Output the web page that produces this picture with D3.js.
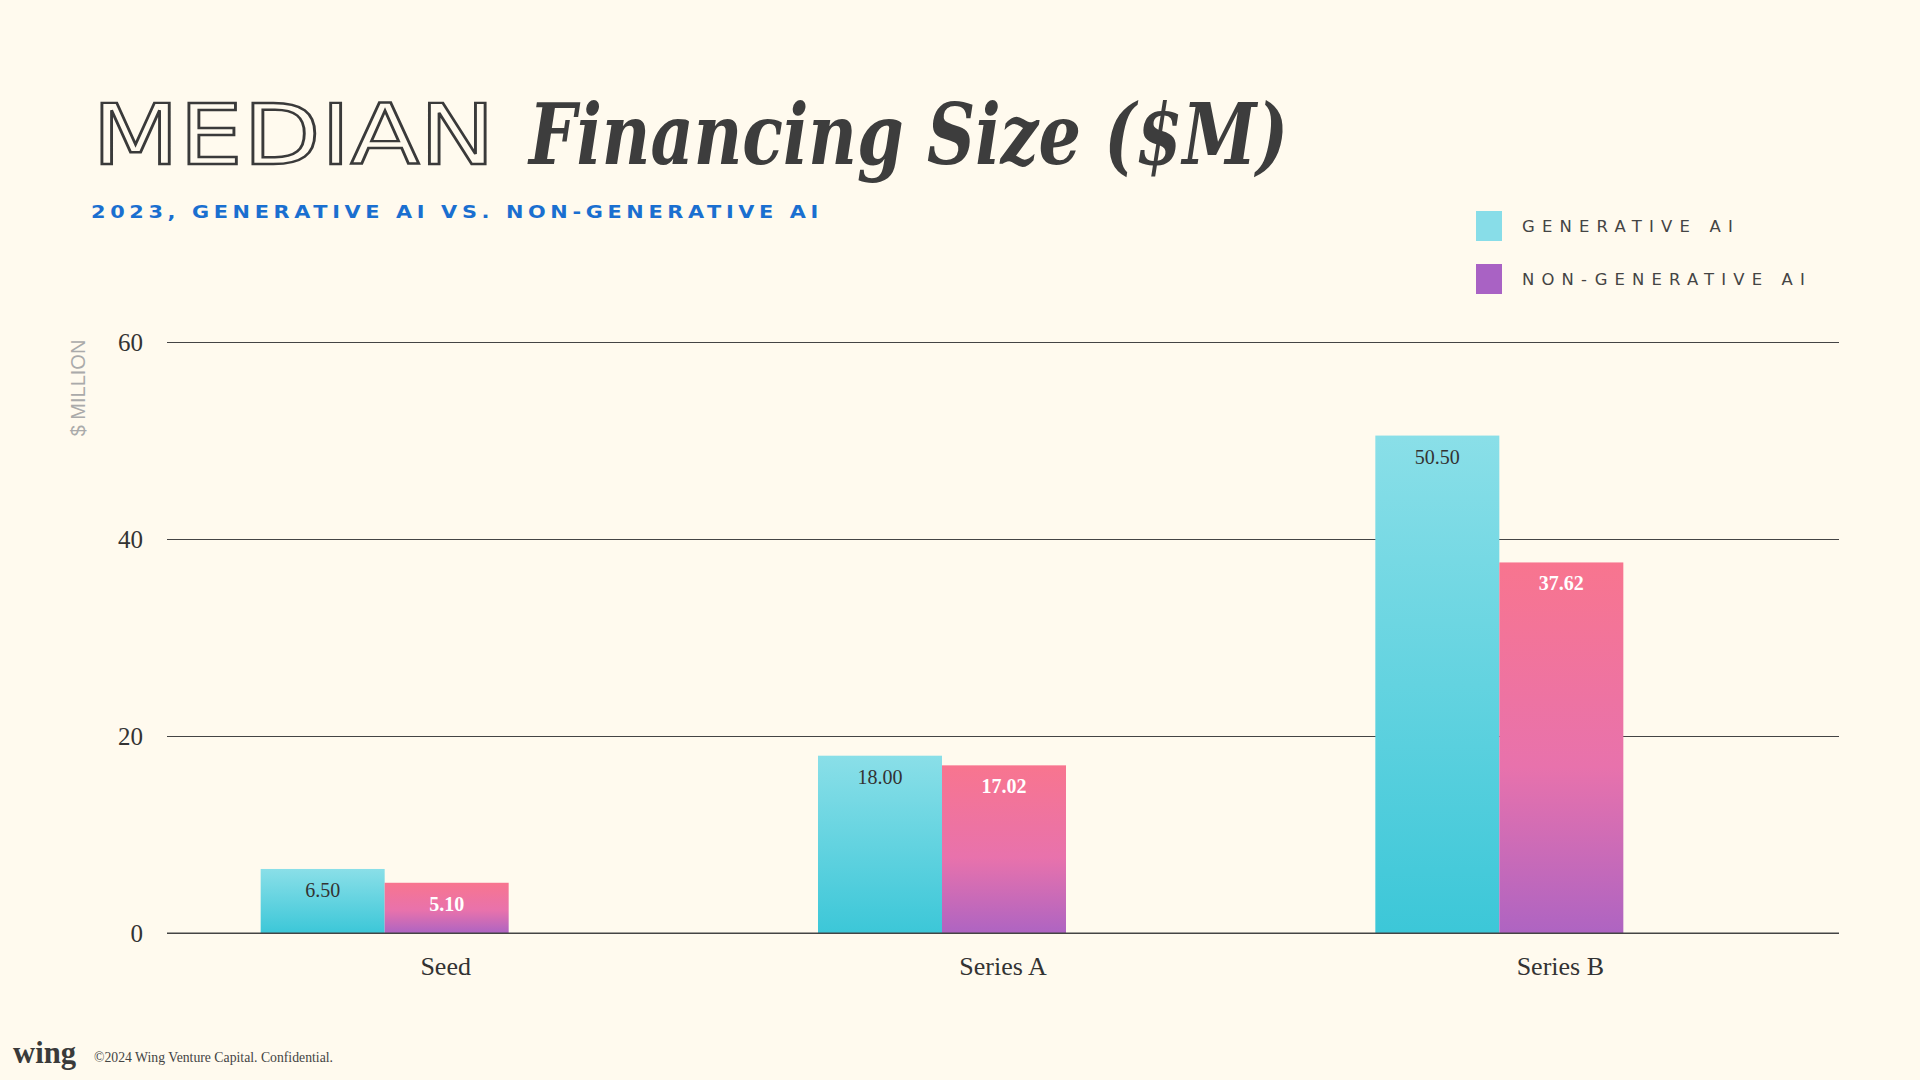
<!DOCTYPE html>
<html>
<head>
<meta charset="utf-8">
<script src="https://cdn.jsdelivr.net/npm/d3@7"></script>
<style>
  html, body { margin: 0; padding: 0; background: #fffaee; }
  svg { display: block; }
</style>
</head>
<body>
<div class="chart"></div>
<script>
// data
var categories = ["Seed", "Series A", "Series B"];
var seriesNames = ["GENERATIVE AI", "NON-GENERATIVE AI"];
var genValues = [6.50, 18.00, 50.50];
var nonGenValues = [5.10, 17.02, 37.62];
var yTicks = [0, 20, 40, 60];

var svgWidth = 1920, svgHeight = 1080;

var svg = d3.select(".chart")
  .append("svg")
  .attr("width", svgWidth)
  .attr("height", svgHeight);

svg.append("rect")
  .attr("width", svgWidth)
  .attr("height", svgHeight)
  .attr("fill", "#fffaee");

// gradients, one per series
var defs = svg.append("defs");
var gradGen = defs.append("linearGradient")
  .attr("id", "gradGen")
  .attr("x1", 0).attr("y1", 0).attr("x2", 0).attr("y2", 1);
gradGen.append("stop").attr("offset", "0%").attr("stop-color", "#8adfe8");
gradGen.append("stop").attr("offset", "100%").attr("stop-color", "#3cc7d8");

var gradNon = defs.append("linearGradient")
  .attr("id", "gradNon")
  .attr("x1", 0).attr("y1", 0).attr("x2", 0).attr("y2", 1);
gradNon.append("stop").attr("offset", "0%").attr("stop-color", "#f8758f");
gradNon.append("stop").attr("offset", "55%").attr("stop-color", "#e872ac");
gradNon.append("stop").attr("offset", "100%").attr("stop-color", "#ae64c2");

// title
svg.append("text")
  .attr("x", 92)
  .attr("y", 164)
  .attr("textLength", 403)
  .attr("lengthAdjust", "spacingAndGlyphs")
  .style("font-family", "'DejaVu Sans', sans-serif")
  .style("font-size", "84px")
  .style("font-weight", "normal")
  .attr("fill", "#fffaee")
  .attr("stroke", "#3a3a3a")
  .attr("stroke-width", 2.4)
  .text("MEDIAN");

svg.append("text")
  .attr("x", 529)
  .attr("y", 164)
  .attr("textLength", 759)
  .attr("lengthAdjust", "spacingAndGlyphs")
  .style("font-family", "'DejaVu Serif', serif")
  .style("font-size", "84px")
  .style("font-style", "italic")
  .style("font-weight", "bold")
  .attr("fill", "#3d3d3d")
  .text("Financing Size ($M)");

svg.append("text")
  .attr("x", 91)
  .attr("y", 218)
  .attr("textLength", 732)
  .attr("lengthAdjust", "spacingAndGlyphs")
  .style("font-family", "'DejaVu Sans', sans-serif")
  .style("font-size", "18px")
  .style("font-weight", "bold")
  .style("letter-spacing", "4px")
  .attr("fill", "#1a6fd0")
  .text("2023, GENERATIVE AI VS. NON-GENERATIVE AI");

// legend
var legendColors = ["#88dde8", "#a962c4"];
var legendWidths = [218, 290];
var legend = svg.append("g");
seriesNames.forEach(function(name, i) {
  var g = legend.append("g")
    .attr("transform", `translate(1476, ${211 + i * 53})`);
  g.append("rect")
    .attr("width", 26)
    .attr("height", 30)
    .attr("fill", legendColors[i]);
  g.append("text")
    .attr("x", 46)
    .attr("y", 21)
    .attr("textLength", legendWidths[i])
    .attr("lengthAdjust", "spacingAndGlyphs")
    .style("font-family", "'DejaVu Sans', sans-serif")
    .style("font-size", "16px")
    .style("letter-spacing", "7px")
    .attr("fill", "#444")
    .text(name);
});

// scales
var yScale = d3.scaleLinear()
  .domain([0, 60])
  .range([933, 342]);

var x0 = d3.scaleBand()
  .domain(categories)
  .range([167, 1839])
  .padding(0);

// bars sit left of the band centre, as in the reference
var x1 = d3.scaleBand()
  .domain(seriesNames)
  .range([-185, 63])
  .padding(0);

// gridlines
var yAxis = d3.axisLeft(yScale)
  .tickValues(yTicks)
  .tickSize(-(1839 - 167))
  .tickPadding(24)
  .tickFormat(d3.format("d"));

var yAxisG = svg.append("g")
  .attr("transform", "translate(167,0)")
  .call(yAxis);
yAxisG.select(".domain").remove();
yAxisG.selectAll(".tick line")
  .attr("stroke", "#444")
  .attr("stroke-width", 1);
yAxisG.selectAll(".tick text")
  .style("font-family", "'Liberation Serif', serif")
  .style("font-size", "25px")
  .attr("fill", "#333");

// y label
svg.append("text")
  .attr("transform", "translate(85, 388) rotate(-90)")
  .attr("text-anchor", "middle")
  .style("font-family", "'Liberation Sans', sans-serif")
  .style("font-size", "20px")
  .attr("fill", "#aaa")
  .text("$ MILLION");

// bars
var rows = categories.map(function(c, i) {
  return { cat: c, values: [
    { key: seriesNames[0], value: genValues[i] },
    { key: seriesNames[1], value: nonGenValues[i] }
  ]};
});

var groups = svg.append("g").selectAll("g")
  .data(rows)
  .enter()
  .append("g")
  .attr("transform", d => `translate(${x0(d.cat) + x0.bandwidth() / 2},0)`);

groups.selectAll("rect")
  .data(d => d.values)
  .enter()
  .append("rect")
  .attr("x", d => x1(d.key))
  .attr("y", d => yScale(d.value))
  .attr("width", x1.bandwidth())
  .attr("height", d => yScale(0) - yScale(d.value))
  .attr("fill", (d, i) => i === 0 ? "url(#gradGen)" : "url(#gradNon)");

groups.selectAll(".bar-label")
  .data(d => d.values)
  .enter()
  .append("text")
  .attr("class", "bar-label")
  .attr("x", d => x1(d.key) + x1.bandwidth() / 2)
  .attr("y", d => yScale(d.value) + 28)
  .attr("text-anchor", "middle")
  .style("font-family", "'Liberation Serif', serif")
  .style("font-size", "20px")
  .style("font-weight", (d, i) => i === 0 ? "normal" : "bold")
  .attr("fill", (d, i) => i === 0 ? "#333" : "#fff")
  .text(d => d.value.toFixed(2));

// baseline
svg.append("line")
  .attr("x1", 167).attr("x2", 1839)
  .attr("y1", yScale(0)).attr("y2", yScale(0))
  .attr("stroke", "#444")
  .attr("stroke-width", 1.2);

// x axis labels
var xAxis = d3.axisBottom(x0).tickSize(0).tickPadding(0);
var xAxisG = svg.append("g")
  .attr("transform", `translate(0, ${yScale(0)})`)
  .call(xAxis);
xAxisG.select(".domain").remove();
xAxisG.selectAll(".tick text")
  .attr("dy", 0)
  .attr("y", 42)
  .style("font-family", "'Liberation Serif', serif")
  .style("font-size", "26px")
  .attr("fill", "#333");

// footer
svg.append("text")
  .attr("x", 13)
  .attr("y", 1063)
  .attr("textLength", 63)
  .attr("lengthAdjust", "spacingAndGlyphs")
  .style("font-family", "'Liberation Serif', serif")
  .style("font-size", "32px")
  .style("font-weight", "bold")
  .attr("fill", "#3a3a3a")
  .text("wing");

svg.append("text")
  .attr("x", 94)
  .attr("y", 1062)
  .attr("textLength", 239)
  .attr("lengthAdjust", "spacingAndGlyphs")
  .style("font-family", "'Liberation Serif', serif")
  .style("font-size", "14px")
  .attr("fill", "#444")
  .text("©2024 Wing Venture Capital. Confidential.");
</script>
</body>
</html>
